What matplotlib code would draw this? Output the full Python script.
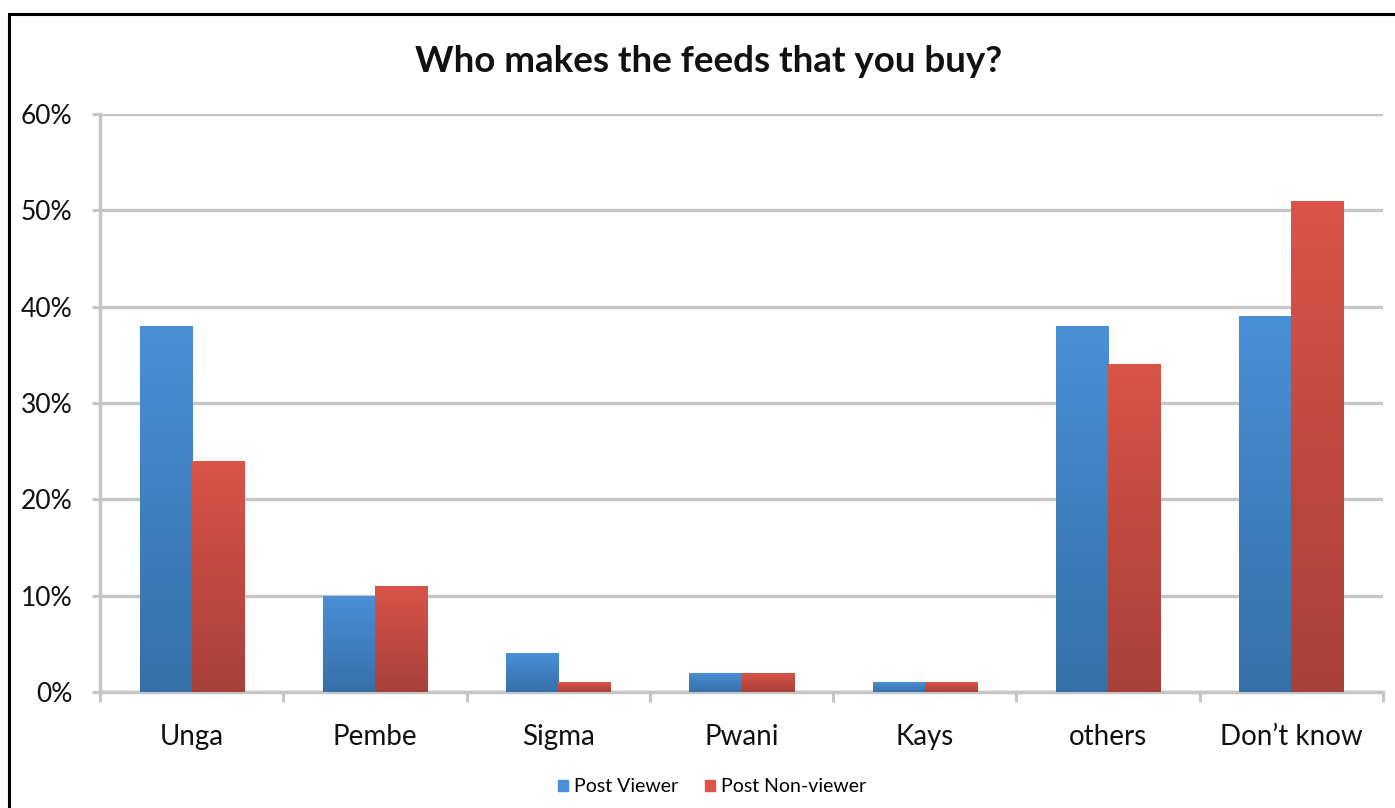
import matplotlib
matplotlib.use("Agg")
import matplotlib.pyplot as plt
import numpy as np
from matplotlib.patches import Rectangle
from matplotlib.colors import LinearSegmentedColormap

categories = ["Unga", "Pembe", "Sigma", "Pwani", "Kays", "others", "Don\u2019t know"]
post_viewer = [38, 10, 4, 2, 1, 38, 39]
post_nonviewer = [24, 11, 1, 2, 1, 34, 51]
series_names = ["Post Viewer", "Post Non-viewer"]
yticks = [0, 10, 20, 30, 40, 50, 60]

plt.rcParams['font.family'] = ['Lato', 'DejaVu Sans']

W, H = 1395, 808
fig = plt.figure(figsize=(W / 100, H / 100), dpi=100)
ax = fig.add_axes([100 / W, 1 - 692 / H, (1383 - 100) / W, (692 - 114) / H])

x = np.arange(len(categories))
bw = 0.284
blue_top, blue_bot = "#4a90d6", "#3670a9"
red_top, red_bot = "#da5449", "#a8403a"

def grad_bars(xs, vals, ctop, cbot, label):
    bars = ax.bar(xs, vals, width=bw, color=ctop, label=label, zorder=3, linewidth=0)
    cmap = LinearSegmentedColormap.from_list("g", [cbot, ctop])
    grad = np.linspace(0, 1, 256).reshape(-1, 1)
    for b in bars:
        bx, by = b.get_x(), b.get_y()
        w, h = b.get_width(), b.get_height()
        im = ax.imshow(grad, cmap=cmap, origin="lower", aspect="auto",
                       extent=(bx, bx + w, by, by + h), zorder=4)
        im.set_clip_path(b)
    return bars

grad_bars(x - bw / 2, post_viewer, blue_top, blue_bot, series_names[0])
grad_bars(x + bw / 2, post_nonviewer, red_top, red_bot, series_names[1])

ax.set_xlim(-0.5, len(categories) - 0.5)
ax.set_ylim(0, 60)
ax.set_yticks(yticks)
ax.set_yticklabels([f"{v}%" for v in yticks], fontsize=19, color="#111111")
ax.yaxis.grid(True, color="#c6c6c6", linewidth=2.4, zorder=0)
ax.set_axisbelow(True)

ax.set_xticks(x)
ax.set_xticklabels(categories, fontsize=20, color="#111111")
ax.tick_params(axis="x", length=0, pad=23)
ax.set_xticks(np.arange(-0.5, len(categories)), minor=True)
ax.tick_params(axis="x", which="minor", length=7, width=2.2, color="#c6c6c6", direction="out")
ax.tick_params(axis="y", length=6, width=2.2, color="#c6c6c6", pad=14)

for s in ["top", "right"]:
    ax.spines[s].set_visible(False)
ax.spines["left"].set_color("#c6c6c6")
ax.spines["left"].set_linewidth(2.5)
ax.spines["bottom"].set_color("#c6c6c6")
ax.spines["bottom"].set_linewidth(2.5)

fig.text(709 / W, 1 - 62 / H, "Who makes the feeds that you buy?", ha="center", va="center",
         fontsize=26.5, fontweight="bold", color="#111111")

leg = fig.legend(handles=[Rectangle((0, 0), 1, 1, color=blue_top), Rectangle((0, 0), 1, 1, color=red_top)],
                 labels=series_names, loc="center", bbox_to_anchor=(712 / W, 1 - 787 / H), ncol=2,
                 frameon=False, fontsize=14, handlelength=0.5, handleheight=0.5,
                 handletextpad=0.3, columnspacing=1.4)

fig.patches.append(Rectangle((9 / W, -0.1), 1.2, 1 - 14 / H + 0.1, transform=fig.transFigure,
                             fill=False, edgecolor="black", linewidth=2.2))

fig.savefig("out.png", dpi=100)
